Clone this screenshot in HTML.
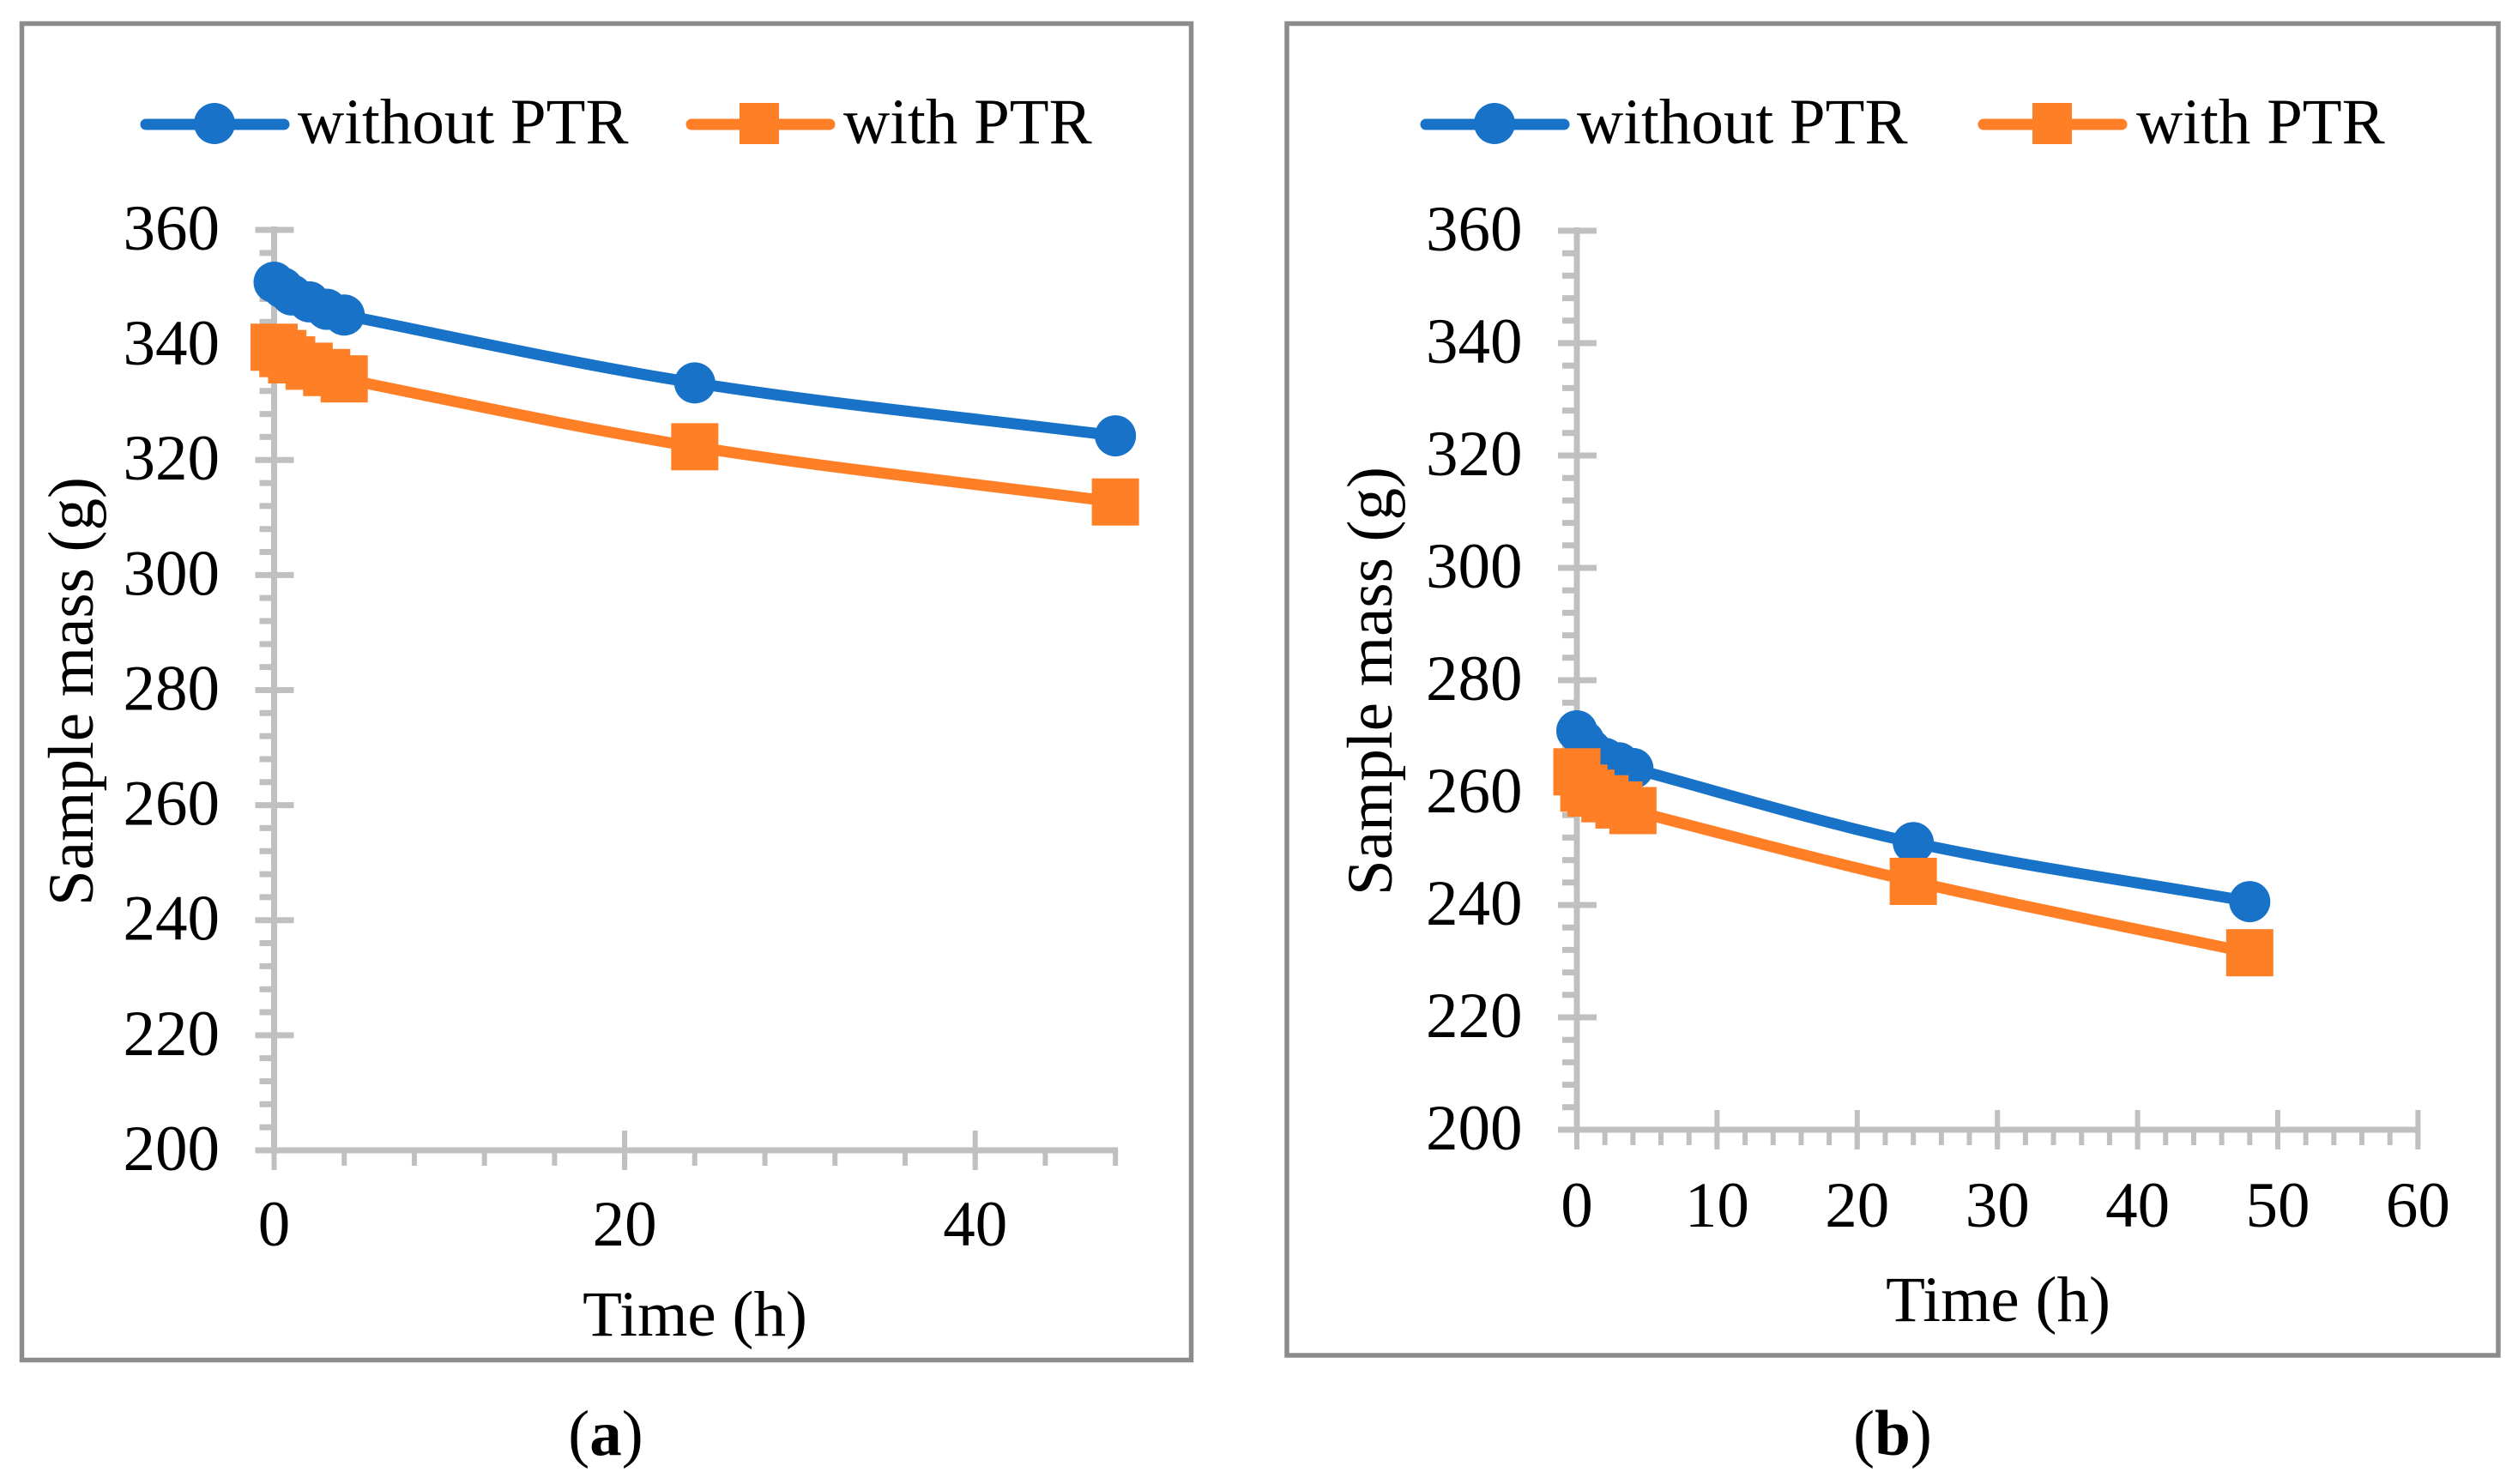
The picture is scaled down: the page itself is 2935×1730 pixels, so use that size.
<!DOCTYPE html>
<html lang="en">
<head>
<meta charset="utf-8">
<title>Sample mass over time, without and with PTR</title>
<style>
html,body{margin:0;padding:0;background:#fff;}
svg{display:block;}
text{font-family:"Liberation Serif",serif;font-size:75px;fill:#000;}
</style>
</head>
<body>
<svg id="figure" xmlns="http://www.w3.org/2000/svg" width="2935" height="1730" viewBox="0 0 2935 1730">
  <rect x="0" y="0" width="2935" height="1730" fill="#fff"/>

  <g id="panel-a">
    <rect x="25.5" y="27.5" width="1363" height="1558" fill="#fff" stroke="#8c8c8c" stroke-width="5.5"/>
    <g id="plot-a"></g>
    <g>
      <g>
        <line x1="170" y1="145" x2="331" y2="145" stroke="#1772c8" stroke-width="13" stroke-linecap="round"/>
        <circle cx="250" cy="144" r="24" fill="#1772c8"/>
        <text x="347" y="167">without PTR</text>
      </g>
      <g>
        <line x1="806" y1="145" x2="967" y2="145" stroke="#ff7f27" stroke-width="13" stroke-linecap="round"/>
        <rect x="862" y="120" width="46" height="48" fill="#ff7f27"/>
        <text x="983" y="167">with PTR</text>
      </g>
    </g>
    <text transform="translate(108,806) rotate(-90)" text-anchor="middle">Sample mass (g)</text>
    <text x="810" y="1557" text-anchor="middle">Time (h)</text>
    <text x="706" y="1696" text-anchor="middle">(<tspan font-weight="bold">a</tspan>)</text>
  </g>

  <g id="panel-b">
    <rect x="1500" y="27.5" width="1412" height="1552.5" fill="#fff" stroke="#8c8c8c" stroke-width="5.5"/>
    <g id="plot-b"></g>
    <g>
      <g>
        <line x1="1662" y1="145" x2="1823" y2="145" stroke="#1772c8" stroke-width="13" stroke-linecap="round"/>
        <circle cx="1742" cy="144" r="24" fill="#1772c8"/>
        <text x="1838" y="167">without PTR</text>
      </g>
      <g>
        <line x1="2312" y1="145" x2="2473" y2="145" stroke="#ff7f27" stroke-width="13" stroke-linecap="round"/>
        <rect x="2369" y="120" width="46" height="48" fill="#ff7f27"/>
        <text x="2490" y="167">with PTR</text>
      </g>
    </g>
    <text transform="translate(1622,794) rotate(-90)" text-anchor="middle">Sample mass (g)</text>
    <text x="2329" y="1540" text-anchor="middle">Time (h)</text>
    <text x="2206" y="1696" text-anchor="middle">(<tspan font-weight="bold">b</tspan>)</text>
  </g>
</svg>

<script>
// Chart data
var hours = [0, 0.5, 1, 2, 3, 4, 24, 48];

var withoutPtrA = [350.9, 349.9, 348.7, 347.5, 346.2, 345.2, 333.4, 324.2];
var withPtrA = [339.6, 338.5, 337.4, 336.3, 335.2, 334.1, 322.3, 312.7];

var withoutPtrB = [271.0, 269.2, 267.6, 266.1, 265.3, 264.3, 251.1, 240.6];
var withPtrB = [263.7, 260.8, 259.9, 258.9, 257.8, 256.8, 244.2, 231.5];

var yTicks = [200, 220, 240, 260, 280, 300, 320, 340, 360];
var xTicksA = [0, 20, 40];
var xTicksB = [0, 10, 20, 30, 40, 50, 60];

var SVG_NS = 'http://www.w3.org/2000/svg';

function make(tag, parent, attrs) {
  var el = document.createElementNS(SVG_NS, tag);
  for (var k in attrs) { el.setAttribute(k, attrs[k]); }
  parent.appendChild(el);
  return el;
}

function smoothPath(xs, ys) {
  var d = 'M' + xs[0] + ' ' + ys[0];
  var n = xs.length;
  function slope(i) {
    var a = Math.max(0, i - 1), b = Math.min(n - 1, i + 1);
    return (ys[b] - ys[a]) / (xs[b] - xs[a]);
  }
  for (var i = 0; i < n - 1; i++) {
    var dx = xs[i + 1] - xs[i];
    d += ' C' + (xs[i] + dx / 3) + ' ' + (ys[i] + slope(i) * dx / 3) + ' ' +
         (xs[i + 1] - dx / 3) + ' ' + (ys[i + 1] - slope(i + 1) * dx / 3) + ' ' +
         xs[i + 1] + ' ' + ys[i + 1];
  }
  return d;
}

function drawPlot(parent, geo, xTicks, xMinorStep, xMax, seriesBlue, seriesOrange) {
  var GREY = '#c0c0c0';
  function xScale(v) { return geo.x0 + v * geo.xPerHour; }
  function yScale(v) { return geo.yTop + (360 - v) * geo.yPerGram; }

  var axes = make('g', parent, {});
  
  

  var yAxisLine = make('line', axes, {x1: geo.x0, x2: geo.x0, y1: yScale(360) - 4, y2: yScale(200) + 4, stroke: GREY, 'stroke-width': 7});
  
  

  var xAxisLine = make('line', axes, {x1: geo.x0, x2: xScale(xMax) + 3, y1: yScale(200), y2: yScale(200), stroke: GREY, 'stroke-width': 7});
  
  

  for (var m = 200; m < 360; m += 4) {
    if ((m - 200) % 20 === 0) continue;
    var yMinor = make('line', axes, {x1: geo.x0 - 17, x2: geo.x0, y1: yScale(m), y2: yScale(m), stroke: GREY, 'stroke-width': 7});
    
    
  }

  yTicks.forEach(function (v) {
    var tick = make('line', axes, {x1: geo.x0 - 22, x2: geo.x0 + 23, y1: yScale(v), y2: yScale(v), stroke: GREY, 'stroke-width': 7});
    
    
    var label = make('text', axes, {x: geo.x0 - 63.5, y: yScale(v) + 23, 'text-anchor': 'end'});
    label.textContent = String(v);
    
    
  });

  for (var h = 0; h <= xMax; h += xMinorStep) {
    var xMinor = make('line', axes, {x1: xScale(h), x2: xScale(h), y1: yScale(200), y2: yScale(200) + 18, stroke: GREY, 'stroke-width': 6});
    
    
  }

  xTicks.forEach(function (v) {
    var tick = make('line', axes, {x1: xScale(v), x2: xScale(v), y1: yScale(200) - 23, y2: yScale(200) + 23, stroke: GREY, 'stroke-width': 6});
    
    
    var label = make('text', axes, {x: xScale(v), y: yScale(200) + geo.xLabelOffset, 'text-anchor': 'middle'});
    label.textContent = String(v);
    
    
  });

  var px = hours.map(xScale);

  var blueGroup = make('g', parent, {});
  
  
  var blueLine = make('path', blueGroup, {d: smoothPath(px, seriesBlue.map(yScale)), fill: 'none', stroke: '#1772c8', 'stroke-width': 13, 'stroke-linecap': 'round'});
  
  
  seriesBlue.forEach(function (v, i) {
    var dot = make('circle', blueGroup, {cx: px[i], cy: yScale(v), r: 24, fill: '#1772c8'});
    
    
  });

  var orangeGroup = make('g', parent, {});
  
  
  var orangeLine = make('path', orangeGroup, {d: smoothPath(px, seriesOrange.map(yScale)), fill: 'none', stroke: '#ff7f27', 'stroke-width': 13, 'stroke-linecap': 'round'});
  
  
  seriesOrange.forEach(function (v, i) {
    var sq = make('rect', orangeGroup, {x: px[i] - 27.5, y: yScale(v) - 27.5, width: 55, height: 55, fill: '#ff7f27'});
    
    
  });
}

drawPlot(document.getElementById('plot-a'),
  {x0: 319.5, xPerHour: 20.43, yTop: 268, yPerGram: 6.706, xLabelOffset: 111},
  xTicksA, 4, 48, withoutPtrA, withPtrA);

drawPlot(document.getElementById('plot-b'),
  {x0: 1838, xPerHour: 16.34, yTop: 269, yPerGram: 6.55, xLabelOffset: 113},
  xTicksB, 2, 60, withoutPtrB, withPtrB);
</script>
</body>
</html>
